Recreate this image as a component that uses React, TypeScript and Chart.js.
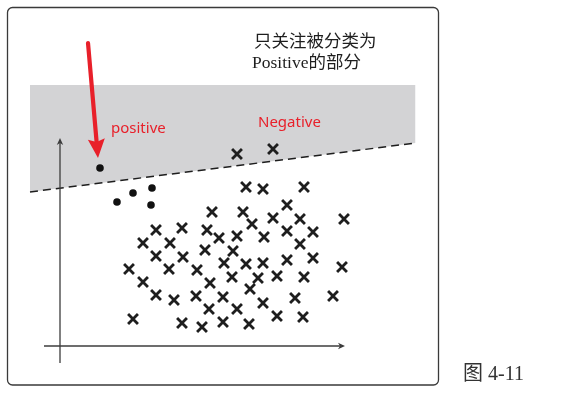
import React, { useEffect, useRef } from 'react';
import { Chart, registerables } from 'chart.js';

Chart.register(...registerables);

// Data coordinates: origin at the drawn axes' crossing point, y up.
const positiveX = [40, 57, 73, 92, 91];
const positiveY = [178, 144, 153, 158, 141];

const negativeX = [
  177, 213, 186, 203, 244, 152, 183, 227, 192, 213, 240, 284, 96, 122, 147, 159, 177, 204, 227, 253,
  83, 110, 145, 173, 240, 96, 123, 164, 186, 203, 227, 253, 282, 69, 109, 137, 172, 198, 217, 244,
  83, 150, 190, 96, 114, 136, 163, 203, 235, 273, 149, 177, 217, 243, 73, 122, 142, 163, 189,
];
const negativeY = [
  192, 197, 159, 157, 159, 134, 134, 141, 122, 128, 127, 127, 116, 118, 116, 108, 110, 109, 115, 114,
  103, 103, 96, 95, 102, 90, 89, 83, 82, 83, 86, 88, 79, 77, 77, 76, 69, 68, 70, 69,
  64, 63, 57, 51, 46, 50, 49, 43, 48, 50, 37, 37, 30, 29, 27, 23, 19, 24, 22,
];

// Decision boundary (dashed) and the shaded "predicted positive" region above it
const boundaryX = [-30, 355.5];
const boundaryY = [154, 203];
const regionTop = 261;

const labelPositive = 'positive';
const labelNegative = 'Negative';
const noteLines = ['只关注被分类为', 'Positive的部分'];
const caption = '图 4-11';

// Layout of decorations (in data units)
const DECO = {
  frame: { x0: -52.5, y0: 338.5, x1: 378.5, y1: -39, r: 5 },
  yAxis: { x: 0, from: -17, to: 208 },
  xAxis: { y: 0, from: -16, to: 285 },
  redArrow: { x0: 28, y0: 303, x1: 38, y1: 188 },
};

const RED = '#e8202a';

function arrowHead(ctx: CanvasRenderingContext2D, tx: number, ty: number, ang: number, len: number, half: number, back: number) {
  const cos = Math.cos(ang), sin = Math.sin(ang);
  const bx = tx - cos * len, by = ty - sin * len;
  const nx = -sin, ny = cos;
  const ix = tx - cos * (len - back), iy = ty - sin * (len - back);
  ctx.beginPath();
  ctx.moveTo(tx, ty);
  ctx.lineTo(bx + nx * half, by + ny * half);
  ctx.lineTo(ix, iy);
  ctx.lineTo(bx - nx * half, by - ny * half);
  ctx.closePath();
  ctx.fill();
}

const decoPlugin = {
  id: 'deco',
  beforeDatasetsDraw(chart: any) {
    const { ctx, scales } = chart;
    const px = (v: number) => scales.x.getPixelForValue(v);
    const py = (v: number) => scales.y.getPixelForValue(v);
    const f = DECO.frame;
    ctx.save();
    ctx.strokeStyle = '#3a3a3a';
    ctx.lineWidth = 1.3;
    ctx.beginPath();
    const X0 = px(f.x0), Y0 = py(f.y0), X1 = px(f.x1), Y1 = py(f.y1);
    (ctx as any).roundRect(X0, Y0, X1 - X0, Y1 - Y0, f.r);
    ctx.stroke();
    ctx.restore();
  },
  afterDatasetsDraw(chart: any) {
    const { ctx, scales } = chart;
    const px = (v: number) => scales.x.getPixelForValue(v);
    const py = (v: number) => scales.y.getPixelForValue(v);
    ctx.save();
    // axes
    ctx.strokeStyle = '#3c3c3c';
    ctx.fillStyle = '#3c3c3c';
    ctx.lineWidth = 1.3;
    const ax = px(DECO.yAxis.x);
    ctx.beginPath();
    ctx.moveTo(ax, py(DECO.yAxis.from));
    ctx.lineTo(ax, py(DECO.yAxis.to) + 3);
    ctx.stroke();
    arrowHead(ctx, ax, py(DECO.yAxis.to), -Math.PI / 2, 7, 3.2, 2);
    const ay = py(DECO.xAxis.y);
    ctx.beginPath();
    ctx.moveTo(px(DECO.xAxis.from), ay);
    ctx.lineTo(px(DECO.xAxis.to) - 3, ay);
    ctx.stroke();
    arrowHead(ctx, px(DECO.xAxis.to), ay, 0, 7, 3.2, 2);

    // red arrow
    const r = DECO.redArrow;
    const tx = px(r.x1), ty = py(r.y1), sx = px(r.x0), sy = py(r.y0);
    const ang = Math.atan2(ty - sy, tx - sx);
    ctx.strokeStyle = RED;
    ctx.fillStyle = RED;
    ctx.lineWidth = 4.2;
    ctx.lineCap = 'round';
    ctx.beginPath();
    ctx.moveTo(sx, sy);
    ctx.lineTo(tx - Math.cos(ang) * 14, ty - Math.sin(ang) * 14);
    ctx.stroke();
    arrowHead(ctx, tx, ty, ang, 19, 8.5, 3);

    // labels
    ctx.textBaseline = 'alphabetic';
    ctx.textAlign = 'left';
    ctx.fillStyle = RED;
    ctx.font = '15px "Noto Sans", "Open Sans", sans-serif';
    ctx.fillText(labelPositive, px(51), py(213));
    ctx.fillText(labelNegative, px(198), py(219));

    ctx.fillStyle = '#1e1e1e';
    ctx.textBaseline = 'middle';
    ctx.font = '17.5px "Liberation Serif", "Noto Sans CJK SC", serif';
    ctx.fillText(noteLines[0], px(194), py(304));
    ctx.fillText(noteLines[1], px(192), py(283));

    ctx.fillStyle = '#333';
    ctx.font = '20px "Liberation Serif", "Noto Sans CJK SC", serif';
    ctx.fillText(caption, px(403), py(-29));
    ctx.restore();
  },
};

export default function App() {
  const ref = useRef<HTMLCanvasElement | null>(null);
  useEffect(() => {
    if (!ref.current) return;
    const chart = new Chart(ref.current, {
      type: 'scatter',
      data: {
        datasets: [
          {
            type: 'line',
            label: 'boundary',
            data: boundaryX.map((x, i) => ({ x, y: boundaryY[i] })),
            borderColor: '#1e1e1e',
            borderWidth: 1.5,
            borderDash: [8, 5],
            pointRadius: 0,
            fill: { value: regionTop },
            backgroundColor: '#d3d3d5',
            tension: 0,
            order: 3,
          } as any,
          {
            label: 'negative',
            data: negativeX.map((x, i) => ({ x, y: negativeY[i] })),
            pointStyle: 'crossRot',
            pointRadius: 7,
            pointBorderWidth: 2.8,
            borderColor: '#1e1e1e',
            backgroundColor: '#1e1e1e',
            order: 2,
          } as any,
          {
            label: 'positive',
            data: positiveX.map((x, i) => ({ x, y: positiveY[i] })),
            pointStyle: 'circle',
            pointRadius: 3.8,
            pointBorderWidth: 0,
            borderColor: '#111',
            backgroundColor: '#111',
            order: 1,
          } as any,
        ],
      },
      options: {
        animation: false,
        responsive: false,
        devicePixelRatio: 1,
        events: [],
        layout: { padding: 0, autoPadding: false },
        plugins: { legend: { display: false }, tooltip: { enabled: false } },
        scales: {
          x: { type: 'linear', min: -60, max: 506, display: false },
          y: { type: 'linear', min: -56, max: 346, display: false },
        },
      },
      plugins: [decoPlugin],
    });
    return () => chart.destroy();
  }, []);
  return (
    <div style={{ position: 'absolute', left: 0, top: 0, width: 566, height: 402, background: '#fff' }}>
      <canvas ref={ref} width={566} height={402} style={{ display: 'block', width: 566, height: 402 }} />
    </div>
  );
}
